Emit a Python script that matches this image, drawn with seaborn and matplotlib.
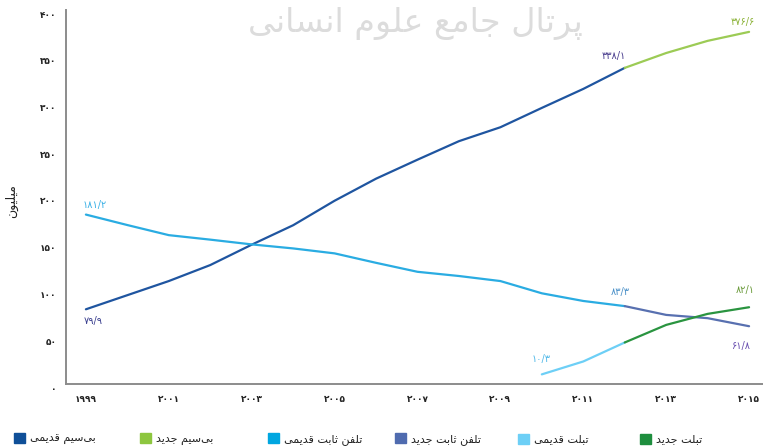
import numpy as np
import pandas as pd
import matplotlib
matplotlib.use("Agg")
import matplotlib.pyplot as plt
import matplotlib.transforms as mtransforms
from matplotlib.patches import Patch
import seaborn as sns

# ---------------- data ----------------
series_names = ["بی‌سیم قدیمی", "بی‌سیم جدید", "تلفن ثابت قدیمی",
                "تلفن ثابت جدید", "تبلت قدیمی", "تبلت جدید"]

years_old_wireless = [1999, 2000, 2001, 2002, 2003, 2004, 2005, 2006, 2007, 2008, 2009, 2010, 2011, 2012]
old_wireless = [79.9, 95.0, 110.1, 127.2, 149.0, 169.8, 196.0, 219.6, 239.9, 259.7, 274.6, 295.3, 315.6, 338.1]

years_new_wireless = [2012, 2013, 2014, 2015]
new_wireless = [338.1, 354.0, 367.0, 376.6]

years_old_landline = [1999, 2000, 2001, 2002, 2003, 2004, 2005, 2006, 2007, 2008, 2009, 2010, 2011, 2012]
old_landline = [181.2, 170.0, 159.2, 154.4, 149.3, 145.0, 139.7, 129.6, 120.0, 115.5, 110.1, 97.0, 88.8, 83.3]

years_new_landline = [2012, 2013, 2014, 2015]
new_landline = [83.3, 73.9, 70.4, 61.8]

years_old_tablet = [2010, 2011, 2012]
old_tablet = [10.3, 24.1, 44.4]

years_new_tablet = [2012, 2013, 2014, 2015]
new_tablet = [44.4, 63.2, 75.0, 82.1]

y_ticks = [0, 50, 100, 150, 200, 250, 300, 350, 400]
x_ticks = [1999, 2001, 2003, 2005, 2007, 2009, 2011, 2013, 2015]
y_label = "میلیون"
watermark = "پرتال جامع علوم انسانی"

# labelled points: (series index, year, value)
label_points = [
    (2, 1999, 181.2), (0, 1999, 79.9), (0, 2012, 338.1), (1, 2015, 376.6),
    (2, 2012, 83.3), (5, 2015, 82.1), (3, 2015, 61.8), (4, 2010, 10.3),
]

# ---------------- styles ----------------
line_colors = ["#1F55A0", "#9CCB55", "#2AACE2", "#5870B0", "#6DCFF6", "#2A9440"]
legend_colors = ["#0F4F98", "#8DC63F", "#00A6E0", "#4F6BAF", "#6DCFF6", "#1E8E3E"]
label_styles = [  # color, dx px, dy px (up positive)
    ("#3AB0E6", 9, 9.5), ("#3A3F8F", 7, -11.4), ("#4A3E8E", -11, 12), ("#8DB33A", -6.5, 9.5),
    ("#4A90C8", -4, 14.5), ("#6A9A3A", -3.5, 17), ("#6A4FB0", -8.5, -19.5), ("#4FB8E8", -1, 15.5),
]

# ---------------- Persian shaping helpers ----------------
FORMS = {
    'ا': ('\uFE8D', '\uFE8E', None, None),
    'ب': ('\uFE8F', '\uFE90', '\uFE91', '\uFE92'),
    'پ': ('\uFB56', '\uFB57', '\uFB58', '\uFB59'),
    'ت': ('\uFE95', '\uFE96', '\uFE97', '\uFE98'),
    'ث': ('\uFE99', '\uFE9A', '\uFE9B', '\uFE9C'),
    'ج': ('\uFE9D', '\uFE9E', '\uFE9F', '\uFEA0'),
    'د': ('\uFEA9', '\uFEAA', None, None),
    'ر': ('\uFEAD', '\uFEAE', None, None),
    'س': ('\uFEB1', '\uFEB2', '\uFEB3', '\uFEB4'),
    'ع': ('\uFEC9', '\uFECA', '\uFECB', '\uFECC'),
    'ف': ('\uFED1', '\uFED2', '\uFED3', '\uFED4'),
    'ق': ('\uFED5', '\uFED6', '\uFED7', '\uFED8'),
    'ل': ('\uFEDD', '\uFEDE', '\uFEDF', '\uFEE0'),
    'م': ('\uFEE1', '\uFEE2', '\uFEE3', '\uFEE4'),
    'ن': ('\uFEE5', '\uFEE6', '\uFEE7', '\uFEE8'),
    'و': ('\uFEED', '\uFEEE', None, None),
    'ی': ('\uFEEF', '\uFEF0', '\uFEF3', '\uFEF4'),
}


def shape(s):
    out = []
    n = len(s)
    for i, c in enumerate(s):
        if c not in FORMS:
            out.append(c)
            continue
        iso, fin, ini, med = FORMS[c]
        prev = s[i - 1] if i > 0 else ''
        nxt = s[i + 1] if i + 1 < n else ''
        jp = prev in FORMS and FORMS[prev][2] is not None
        jn = ini is not None and nxt in FORMS
        if jp and jn:
            out.append(med)
        elif jp:
            out.append(fin)
        elif jn:
            out.append(ini)
        else:
            out.append(iso)
    return ''.join(ch for ch in reversed(out) if ch != '\u200c')


FA_DIGITS = str.maketrans("0123456789", "۰۱۲۳۴۵۶۷۸۹")


def fa_num(v, dec=False):
    s = f"{v:.1f}".replace('.', '/') if dec else f"{int(v)}"
    return s.translate(FA_DIGITS)


# ---------------- build dataframe ----------------
all_years = [years_old_wireless, years_new_wireless, years_old_landline,
             years_new_landline, years_old_tablet, years_new_tablet]
all_vals = [old_wireless, new_wireless, old_landline, new_landline, old_tablet, new_tablet]
frames = []
for name, yrs, vals in zip(series_names, all_years, all_vals):
    frames.append(pd.DataFrame({"year": yrs, "value": vals, "series": name}))
df = pd.concat(frames, ignore_index=True)

# ---------------- plot ----------------
sns.set_theme(style="white")
plt.rcParams['font.family'] = ['DejaVu Sans']

W, H = 763, 447
fig = plt.figure(figsize=(W / 100, H / 100), dpi=100)
ax = fig.add_axes([66 / W, 1 - 384 / H, (W - 66) / W + 0.01, (384 - 10) / H])

# watermark (behind)
fig.text(415 / W, 1 - 24 / H, shape(watermark), fontsize=24, color="#dcdcdc",
         ha="center", va="center", zorder=0, family=['DejaVu Sans'])

palette = dict(zip(series_names, line_colors))
sns.lineplot(data=df, x="year", y="value", hue="series", palette=palette,
             linewidth=1.6, legend=False, ax=ax, sort=True, estimator=None)

ax.set_xlim(1998.52, 2015.27 + 0.25)
ax.set_ylim(0, 400)
ax.set_xticks(x_ticks)
ax.set_xticklabels([fa_num(v) for v in x_ticks], fontsize=6.5, fontweight="bold", color="#222222")
ax.set_yticks(y_ticks)
ax.set_yticklabels([fa_num(v) for v in y_ticks], fontsize=6.5, fontweight="bold", color="#222222")
ax.tick_params(axis="both", length=0)
ax.tick_params(axis="x", pad=8)
ax.tick_params(axis="y", pad=7)
offset = mtransforms.ScaledTranslation(0, -4 / 100, fig.dpi_scale_trans)
for lab in ax.get_yticklabels():
    lab.set_transform(lab.get_transform() + offset)

ax.set_xlabel("")
ax.set_ylabel(shape(y_label), fontsize=9, color="#222222")
ax.yaxis.set_label_coords(-47 / (W - 66), 0.49)

for side in ["top", "right"]:
    ax.spines[side].set_visible(False)
for side in ["left", "bottom"]:
    ax.spines[side].set_color("#8c8c8c")
    ax.spines[side].set_linewidth(1.4)
ax.grid(False)
ax.patch.set_alpha(0)

# value labels
for (si, yr, val), (col, dx, dy) in zip(label_points, label_styles):
    ax.annotate(fa_num(val, dec=True), xy=(yr, val), xytext=(dx * 0.72, dy * 0.72),
                textcoords="offset points", ha="center", va="center",
                fontsize=7, color=col)

# legend: six evenly spaced entries
square_x = [14, 140, 268, 395, 518, 640]
for name, col, sx in zip(series_names, legend_colors, square_x):
    leg = fig.legend(handles=[Patch(facecolor=col, edgecolor=col)], labels=[shape(name)],
                     loc="center left", bbox_to_anchor=(sx / W, 1 - 439 / H),
                     frameon=False, fontsize=8, handlelength=1.0, handleheight=1.0,
                     handletextpad=0.4, borderpad=0, borderaxespad=0)
    for t in leg.get_texts():
        t.set_color("#222222")

fig.savefig("out.png", dpi=100)
